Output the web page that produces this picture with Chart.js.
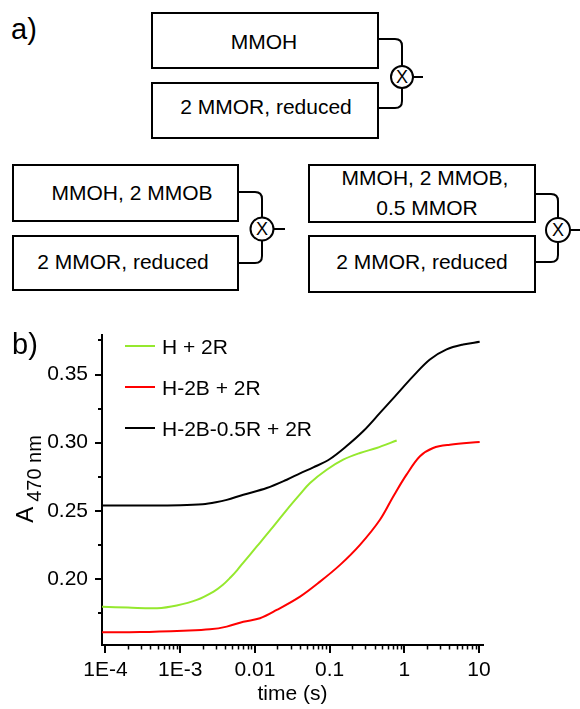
<!DOCTYPE html>
<html>
<head>
<meta charset="utf-8">
<title>Stopped-flow traces</title>
<script src="https://cdn.jsdelivr.net/npm/chart.js@4.4.1/dist/chart.umd.min.js"></script>
<style>
  html, body { margin: 0; padding: 0; background: #fff; }
  #page { position: relative; width: 580px; height: 709px; overflow: hidden; font-family: Arial, "Liberation Sans", sans-serif; color: #000; }
  #chart { position: absolute; left: 0; top: 300px; }
  .panel { position: absolute; font-size: 29px; line-height: 29px; }
  .leg { position: absolute; left: 125px; font-size: 21px; line-height: 21px; white-space: nowrap; }
  .leg i { position: absolute; left: 0; top: 9px; width: 30px; height: 2px; }
  .leg span { position: absolute; left: 37px; top: 0; }
  #ytitle { position: absolute; left: 25px; top: 479px; transform: translate(-50%, -50%) rotate(-90deg);
            white-space: nowrap; font-size: 24px; line-height: 24px; }
  #ytitle span { font-size: 20px; position: relative; top: 8px; margin-left: 5px; }
</style>
</head>
<body>
<div id="page">
  <!-- a) Mischschema -->
  <svg width="580" height="300" style="position:absolute;left:0;top:0">
    <g fill="none" stroke="#000" stroke-width="2">
      <rect x="152" y="13" width="226" height="55"/>
      <rect x="152" y="83" width="226" height="55"/>
      <path d="M378 39 H395 Q402 39 402 46 V66"/>
      <circle cx="402" cy="77" r="11"/>
      <path d="M402 88 V101 Q402 108 395 108 H378"/>
      <path d="M413 77 H423"/>

      <rect x="13" y="165" width="225" height="56"/>
      <rect x="13" y="236" width="225" height="54"/>
      <path d="M238 192 H255 Q262 192 262 199 V217.5"/>
      <circle cx="262" cy="229" r="11.5"/>
      <path d="M262 240.5 V256 Q262 263 255 263 H238"/>
      <path d="M273.5 229 H285"/>

      <rect x="309" y="165" width="226" height="57"/>
      <rect x="309" y="236" width="226" height="56"/>
      <path d="M535 194 H551 Q558 194 558 201 V218"/>
      <circle cx="558" cy="230" r="12"/>
      <path d="M558 242 V255 Q558 262 551 262 H535"/>
      <path d="M570 230 H580"/>
    </g>
    <g font-family="Arial, 'Liberation Sans', sans-serif" font-size="21" text-anchor="middle" dominant-baseline="central" fill="#000">
      <text x="264" y="41">MMOH</text>
      <text x="266" y="106">2 MMOR, reduced</text>
      <text x="132" y="192">MMOH, 2 MMOB</text>
      <text x="123" y="261">2 MMOR, reduced</text>
      <text x="425" y="177">MMOH, 2 MMOB,</text>
      <text x="427" y="207">0.5 MMOR</text>
      <text x="422" y="261">2 MMOR, reduced</text>
    </g>
    <g font-family="Arial, 'Liberation Sans', sans-serif" font-size="18" text-anchor="middle" dominant-baseline="central" fill="#000">
      <text x="402" y="77">X</text>
      <text x="262" y="229">X</text>
      <text x="558" y="230">X</text>
    </g>
  </svg>
  <div class="panel" style="left:11px;top:15px">a)</div>

  <!-- b) Kinetik -->
  <canvas id="chart" width="580" height="409"></canvas>
  <div class="panel" style="left:12px;top:330px">b)</div>
  <div id="ytitle">A<span>470 nm</span></div>
  <div class="leg" style="top:336px"><i style="background:#95e82e"></i><span>H + 2R</span></div>
  <div class="leg" style="top:377px"><i style="background:#ff0000"></i><span>H-2B + 2R</span></div>
  <div class="leg" style="top:418px"><i style="background:#000"></i><span>H-2B-0.5R + 2R</span></div>
</div>

<script>
// Messreihen: Zeit (s) und Absorption bei 470 nm
const greenTime = [9e-5, 2e-4, 4.9e-4, 9e-4, 1.67e-3, 2.8e-3, 3.7e-3, 4.7e-3, 5.8e-3, 7e-3, 0.0106, 0.0177, 0.0267, 0.04, 0.0547, 0.0914, 0.152, 0.255, 0.426, 0.79];
const greenAbs  = [0.1796, 0.179, 0.1785, 0.1805, 0.1846, 0.1907, 0.1955, 0.2010, 0.2065, 0.2120, 0.2238, 0.2385, 0.2507, 0.2620, 0.2704, 0.2801, 0.2875, 0.2924, 0.2961, 0.3016];

const redTime = [9e-5, 2.9e-4, 1.1e-3, 2.5e-3, 4.2e-3, 7e-3, 0.0117, 0.0196, 0.0402, 0.0744, 0.138, 0.255, 0.472, 0.711, 1.07, 1.62, 2.43, 4.07, 10.2];
const redAbs  = [0.1608, 0.161, 0.162, 0.163, 0.165, 0.1686, 0.1711, 0.1772, 0.187, 0.198, 0.2103, 0.225, 0.2434, 0.2605, 0.2765, 0.290, 0.2961, 0.2985, 0.3005];

const blackTime = [9e-5, 3e-4, 1e-3, 2e-3, 3e-3, 4.2e-3, 7e-3, 0.0144, 0.0267, 0.0402, 0.0605, 0.101, 0.169, 0.283, 0.472, 0.75, 1.315, 2.2, 3.68, 6.12, 10.2];
const blackAbs  = [0.2539, 0.2539, 0.2541, 0.2548, 0.2562, 0.258, 0.2618, 0.2667, 0.2728, 0.2775, 0.2818, 0.2880, 0.2975, 0.3085, 0.3218, 0.334, 0.3488, 0.361, 0.3684, 0.372, 0.374];

// Achsen
const xTickValues = [1e-4, 1e-3, 0.01, 0.1, 1, 10];
const xTickLabels = ['1E-4', '1E-3', '0.01', '0.1', '1', '10'];
const yTickValues = [0.20, 0.25, 0.30, 0.35];
const yMinorValues = [0.175, 0.225, 0.275, 0.325, 0.375];

const xy = (ts, vs) => ts.map((t, i) => ({ x: t, y: vs[i] }));

// kleine Nebenstriche (log) zwischen den Dekaden
const xMinorValues = [];
for (let e = -4; e <= 0; e++) {
    for (let k = 2; k <= 9; k++) xMinorValues.push(k * Math.pow(10, e));
}

const tickMarks = {
    id: 'tickMarks',
    afterDraw(chart) {
        const { ctx, scales: { x, y } } = chart;
        ctx.save();
        ctx.strokeStyle = '#000';
        const seg = (x1, y1, x2, y2, w) => {
            ctx.lineWidth = w;
            ctx.beginPath(); ctx.moveTo(x1, y1); ctx.lineTo(x2, y2); ctx.stroke();
        };
        xTickValues.forEach(v => { const p = Math.round(x.getPixelForValue(v)); seg(p, x.top, p, x.top + 8, 2); });
        xMinorValues.forEach(v => { const p = Math.round(x.getPixelForValue(v)) + 0.5; seg(p, x.top, p, x.top + 4.5, 1.5); });
        yTickValues.forEach(v => { const p = Math.round(y.getPixelForValue(v)); seg(y.right, p, y.right - 7, p, 2); });
        yMinorValues.forEach(v => { const p = Math.round(y.getPixelForValue(v)); seg(y.right, p, y.right - 4, p, 2); });
        ctx.restore();
    }
};

Chart.defaults.font.family = 'Arial, "Liberation Sans", sans-serif';
Chart.defaults.color = '#000';

const lineStyle = { pointRadius: 0, borderWidth: 2, fill: false, tension: 0.35 };

const ctx = document.getElementById('chart').getContext('2d');
const chart = new Chart(ctx, {
    type: 'line',
    data: {
        datasets: [
            { label: 'H-2B-0.5R + 2R', data: xy(blackTime, blackAbs), borderColor: '#000000', ...lineStyle },
            { label: 'H-2B + 2R', data: xy(redTime, redAbs), borderColor: '#ff0000', ...lineStyle },
            { label: 'H + 2R', data: xy(greenTime, greenAbs), borderColor: '#95e82e', ...lineStyle }
        ]
    },
    options: {
        responsive: false,
        animation: false,
        devicePixelRatio: 1,
        layout: { padding: { top: 35, right: 97, bottom: 0, left: 0 } },
        plugins: { legend: { display: false }, tooltip: { enabled: false } },
        scales: {
            x: {
                type: 'logarithmic',
                min: 8.98e-5,
                max: 11.3,
                afterBuildTicks: s => { s.ticks = xTickValues.map(v => ({ value: v })); },
                afterFit: s => { s.height = 64; },
                grid: { drawOnChartArea: false, drawTicks: false },
                border: { display: true, color: '#000', width: 2 },
                ticks: {
                    autoSkip: false, maxRotation: 0, minRotation: 0, padding: 13,
                    font: { size: 21 },
                    callback: (v, i) => xTickLabels[i]
                },
                title: { display: true, text: 'time (s)', font: { size: 21 }, padding: { top: 4, bottom: 2 } }
            },
            y: {
                min: 0.1515,
                max: 0.379,
                afterBuildTicks: s => { s.ticks = yTickValues.map(v => ({ value: v })); },
                afterFit: s => { s.width = 102; },
                grid: { drawOnChartArea: false, drawTicks: false },
                border: { display: true, color: '#000', width: 2 },
                ticks: {
                    padding: 14,
                    font: { size: 21 },
                    callback: v => v.toFixed(2)
                }
            }
        }
    },
    plugins: [tickMarks]
});
</script>
</body>
</html>
